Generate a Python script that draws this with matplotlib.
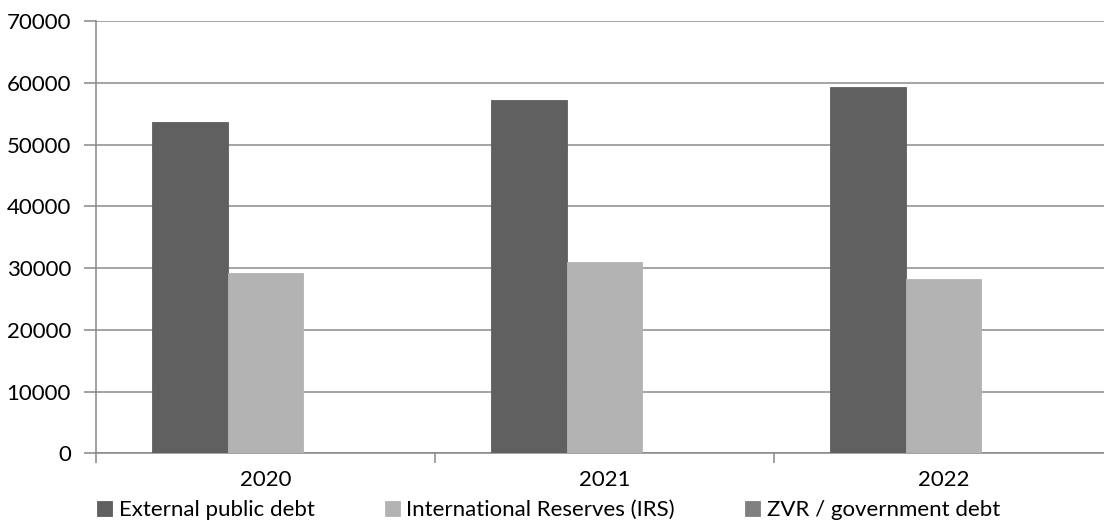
import matplotlib
matplotlib.use("Agg")
import matplotlib.pyplot as plt
import numpy as np

years = ["2020", "2021", "2022"]
external_public_debt = [53700, 57200, 59250]
international_reserves = [29150, 30950, 28200]
zvr_government_debt = [0.54, 0.54, 0.48]
series_names = ["External public debt", "International Reserves (IRS)", "ZVR / government debt"]
colors = ["#606060", "#b3b3b3", "#808080"]
yticks = [0, 10000, 20000, 30000, 40000, 50000, 60000, 70000]

plt.rcParams['font.family'] = ['Lato', 'DejaVu Sans']

W, H = 1104, 520
fig = plt.figure(figsize=(W / 100, H / 100), dpi=100)
ax = fig.add_axes([96 / W, (520 - 453.3) / H, 1017 / W, (453.3 - 21) / H])

x = np.arange(len(years))
bw = 0.223
series = [external_public_debt, international_reserves, zvr_government_debt]
handles = []
for i, (vals, c, name) in enumerate(zip(series, colors, series_names)):
    h = ax.bar(x + (i - 1) * bw, vals, width=bw, color=c, edgecolor=c, linewidth=0.6,
               label=name, zorder=3)
    handles.append(h)

ax.set_xlim(-0.5, 2.5)
ax.set_ylim(0, 70000)
ax.set_yticks(yticks)
ax.set_yticklabels([str(v) for v in yticks])
ax.yaxis.grid(True, color="#8c8c8c", linewidth=1.1, zorder=0)
ax.set_axisbelow(True)

fs = 16
ax.set_xticks([-0.5, 0.5, 1.5, 2.5])
ax.set_xticklabels([])
ax.set_xticks(x, minor=True)
ax.set_xticklabels(years, minor=True)
ax.tick_params(axis="x", which="minor", length=0, pad=12, labelsize=fs)
ax.tick_params(axis="x", which="major", length=7, color="#878787", width=1.1, direction="out")
ax.tick_params(axis="y", length=9, color="#878787", width=1.1, pad=9, labelsize=fs)

for s in ["top", "right"]:
    ax.spines[s].set_visible(False)
for s in ["left", "bottom"]:
    ax.spines[s].set_color("#878787")
    ax.spines[s].set_linewidth(1.1)

leg = fig.legend(handles=handles, labels=series_names, loc="center left",
                 bbox_to_anchor=(97 / W, 1 - 510 / H), ncol=3, frameon=False,
                 fontsize=fs, handlelength=0.68, handleheight=0.68, handletextpad=0.3,
                 columnspacing=3.15, borderpad=0, borderaxespad=0)

fig.savefig("out.png", dpi=100)
